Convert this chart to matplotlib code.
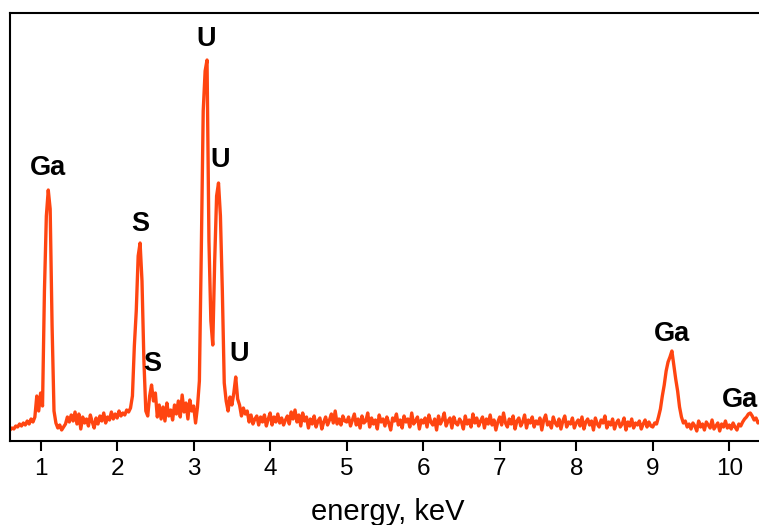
import numpy as np
import matplotlib.pyplot as plt

# EDS spectrum, 0.025 keV channels starting at 0.600 keV
e_start = 0.600
e_step = 0.025
counts = [
    11, 13, 12, 15, 14, 17, 15, 18, 16, 20, 17, 22, 19, 24, 45, 30, 48, 35, 150, 225,     # 0.600
    251, 232, 115, 30, 18, 13, 16, 11, 14, 17, 24, 19, 26, 20, 29, 17, 27, 12, 24, 18,    # 1.100
    22, 15, 26, 19, 13, 23, 17, 25, 20, 28, 18, 24, 21, 29, 22, 27, 23, 30, 25, 28,       # 1.600
    26, 31, 29, 33, 45, 95, 130, 185, 198, 160, 80, 30, 25, 45, 56, 40, 48, 24, 36, 22,   # 2.100
    34, 20, 38, 25, 31, 21, 36, 27, 40, 24, 46, 29, 38, 22, 41, 30, 35, 18, 34, 60,       # 2.600
    190, 330, 370, 381, 200, 120, 96, 180, 245, 258, 225, 150, 58, 40, 30, 44, 36, 48, 64, 42,  # 3.100
    36, 25, 33, 27, 30, 19, 26, 17, 22, 25, 16, 24, 19, 26, 15, 22, 28, 16, 24, 19,       # 3.600
    27, 18, 23, 16, 21, 25, 17, 29, 22, 31, 19, 26, 15, 28, 20, 24, 13, 22, 17, 25,       # 4.100
    14, 20, 23, 12, 19, 24, 16, 21, 27, 18, 30, 17, 22, 16, 25, 20, 19, 24, 15, 21,       # 4.600
    27, 16, 22, 13, 25, 18, 20, 28, 14, 23, 17, 21, 12, 26, 19, 22, 15, 24, 18, 11,       # 5.100
    23, 20, 27, 16, 21, 13, 25, 19, 22, 14, 28, 17, 20, 24, 12, 21, 18, 23, 14, 26,       # 5.600
    19, 16, 22, 11, 25, 17, 21, 28, 15, 20, 23, 13, 24, 18, 16, 22, 19, 12, 25, 17,       # 6.100
    21, 14, 27, 18, 23, 15, 20, 24, 13, 22, 17, 26, 16, 21, 11, 19, 24, 16, 28, 18,       # 6.600
    14, 22, 17, 25, 12, 20, 23, 15, 19, 26, 13, 21, 18, 24, 14, 20, 17, 23, 11, 21,       # 7.100
    26, 16, 19, 13, 24, 18, 15, 22, 12, 20, 25, 14, 19, 17, 23, 13, 18, 21, 15, 24,       # 7.600
    12, 19, 22, 16, 20, 11, 23, 17, 14, 21, 18, 25, 13, 19, 16, 22, 12, 18, 21, 14,       # 8.100
    17, 23, 11, 19, 15, 22, 13, 18, 16, 20, 12, 17, 21, 14, 19, 15, 14, 18, 17, 24,       # 8.600
    32, 45, 56, 70, 79, 84, 90, 76, 62, 50, 34, 24, 18, 20, 14, 17, 12, 18, 15, 10,       # 9.100
    20, 14, 17, 11, 19, 16, 13, 21, 12, 15, 18, 10, 17, 14, 20, 13, 16, 12, 18, 14,       # 9.600
    11, 17, 15, 19, 22, 24, 27, 28, 25, 21, 23, 18, 20, 17, 21, 19,                       # 10.100
]
energy = e_start + e_step * np.arange(len(counts))

# peak labels: element, energy (keV), label height (counts)
peak_names = ["Ga", "S", "S", "U", "U", "U", "Ga", "Ga"]
peak_energy = [1.09, 2.30, 2.46, 3.16, 3.34, 3.59, 9.25, 10.14]
label_height = [273, 217, 77, 402, 281, 87, 107, 41]

fig = plt.figure(figsize=(7.59, 5.25), dpi=100)
ax = fig.add_axes([10 / 759, 84 / 525, 756 / 759, 428 / 525])

ax.plot(energy, counts, color="#ff4511", lw=2.4)

for name, x, y in zip(peak_names, peak_energy, label_height):
    ax.text(x, y, name, ha="center", va="center", fontsize=19.5,
            fontweight="bold", family="Liberation Sans")

ax.set_xlim(0.6, 10.48)
ax.set_ylim(0, 428)
ax.set_xticks(range(1, 11))
ax.set_yticks([])
ax.tick_params(axis="x", direction="out", length=7, width=1.5, pad=5,
               labelsize=17.5)
for lbl in ax.get_xticklabels():
    lbl.set_family("Liberation Sans")
for sp in ax.spines.values():
    sp.set_linewidth(1.5)
ax.set_xlabel("energy, keV", fontsize=21, family="Liberation Sans",
              labelpad=13)

fig.savefig("out.png", dpi=100)
